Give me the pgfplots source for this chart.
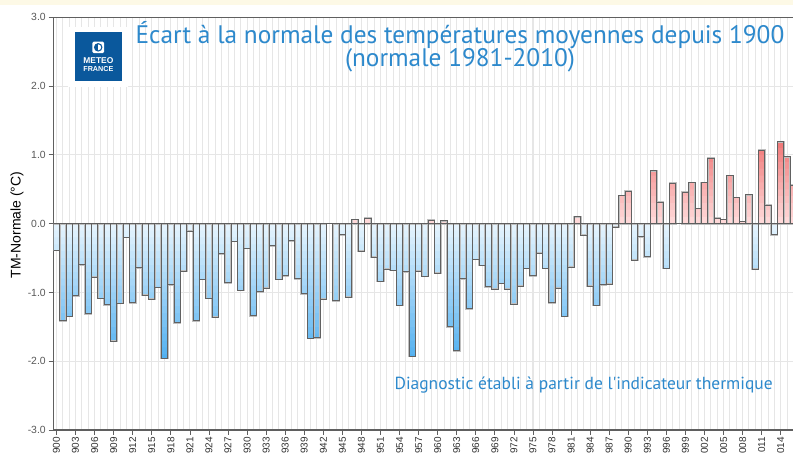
\documentclass[border=0pt]{standalone}
\usepackage{pgfplots}
\pgfplotsset{compat=1.18}
\usepackage{pgfplotstable}
\usepackage{graphicx}
\usepackage{fontspec}
\setmainfont{Liberation Sans}
\newfontfamily\titlefont{PT Sans}
\definecolor{titleblue}{RGB}{45,137,204}
\definecolor{logoblue}{RGB}{10,88,156}
\definecolor{bluedark}{RGB}{82,176,240}
\definecolor{bluelight}{RGB}{236,247,254}
\definecolor{reddark}{RGB}{240,118,118}
\definecolor{redlight}{RGB}{255,224,224}
\definecolor{gridgray}{RGB}{230,230,230}
\definecolor{axisgray}{RGB}{95,95,95}
\definecolor{cream}{RGB}{253,249,230}

\pgfplotstableread{
year v
1900 -0.39
1901 -1.41
1902 -1.35
1903 -1.05
1904 -0.60
1905 -1.31
1906 -0.78
1907 -1.09
1908 -1.18
1909 -1.71
1910 -1.16
1911 -0.20
1912 -1.15
1913 -0.64
1914 -1.04
1915 -1.10
1916 -0.93
1917 -1.96
1918 -0.89
1919 -1.44
1920 -0.69
1921 -0.11
1922 -1.41
1923 -0.81
1924 -1.09
1925 -1.36
1926 -0.44
1927 -0.86
1928 -0.26
1929 -0.97
1930 -0.36
1931 -1.34
1932 -0.99
1933 -0.94
1934 -0.32
1935 -0.81
1936 -0.76
1937 -0.25
1938 -0.80
1939 -1.02
1940 -1.67
1941 -1.66
1942 -1.10
1944 -1.12
1945 -0.16
1946 -1.07
1947 0.06
1948 -0.40
1949 0.08
1950 -0.49
1951 -0.84
1952 -0.66
1953 -0.68
1954 -1.19
1955 -0.70
1956 -1.93
1957 -0.69
1958 -0.77
1959 0.05
1960 -0.72
1961 0.04
1962 -1.50
1963 -1.85
1964 -0.80
1965 -1.24
1966 -0.52
1967 -0.61
1968 -0.92
1969 -0.95
1970 -0.87
1971 -0.95
1972 -1.17
1973 -0.91
1974 -0.65
1975 -0.76
1976 -0.43
1977 -0.65
1978 -1.15
1979 -0.94
1980 -1.35
1981 -0.63
1982 0.10
1983 -0.17
1984 -0.91
1985 -1.19
1986 -0.89
1987 -0.88
1988 -0.05
1989 0.41
1990 0.47
1991 -0.53
1992 -0.19
1993 -0.48
1994 0.77
1995 0.31
1996 -0.65
1997 0.59
1999 0.46
2000 0.60
2001 0.22
2002 0.60
2003 0.95
2004 0.08
2005 0.06
2006 0.70
2007 0.38
2008 0.03
2009 0.42
2010 -0.66
2011 1.07
2012 0.27
2013 -0.16
2014 1.19
2015 0.97
2016 0.56
}\anom

\begin{document}
\begin{tikzpicture}
\fill[white] (0,0) rectangle (594.75pt,339.75pt);
\fill[cream] (0,336pt) rectangle (594.75pt,339.75pt);
\begin{axis}[
  at={(39.98pt,17.25pt)}, anchor=south west,
  scale only axis, width=557.5pt, height=309.5pt,
  xmin=1899.5, xmax=2016.5, ymin=-3, ymax=3,
  axis line style={axisgray, line width=0.8pt},
  xtick={1900,1903,...,2014},
  minor xtick={1900,...,2016},
  ytick={-3,-2,...,3},
  xmajorgrids, xminorgrids, ymajorgrids,
  major grid style={gridgray, line width=0.7pt},
  minor grid style={gridgray, line width=0.7pt},
  tick align=outside, major tick length=3.5pt, minor tick length=0pt,
  xtick pos=bottom, ytick pos=left,
  tick style={axisgray, line width=0.6pt},
  /pgf/number format/assume math mode=true,
  xticklabel style={/pgf/number format/1000 sep={}, rotate=90, anchor=east,
    font=\fontsize{7.5}{8}\selectfont, text=black!80, inner sep=1.5pt},
  yticklabel style={/pgf/number format/.cd, fixed, fixed zerofill, precision=1,
    /tikz/.cd, font=\fontsize{7.8}{8}\selectfont, text=black!65, inner sep=2pt},
  mybar/.style={ybar, bar shift=0pt, bar width=1, draw=none},
  clip=true,
]
\pgfplotsinvokeforeach{100,95,...,5}{
  \addplot[mybar, fill=bluedark!#1!bluelight] table[x=year, y expr={max(min(\thisrow{v},0),-#1/50)}]{\anom};
}
\pgfplotsinvokeforeach{96,88,...,8}{
  \addplot[mybar, fill=reddark!#1!redlight] table[x=year, y expr={min(max(\thisrow{v},0),#1/80)}]{\anom};
}
\addplot[mybar, fill=none, draw=black!25, line width=1.3pt] table[x=year, y=v]{\anom};
\addplot[mybar, fill=none, draw=black!62, line width=0.7pt] table[x=year, y=v]{\anom};
\draw[axisgray, line width=0.9pt] (axis cs:1899.5,0) -- (axis cs:2016.5,0);
\end{axis}
% logo
\fill[white] (51pt,274.5pt) rectangle (96pt,319.5pt);
\fill[logoblue] (56.25pt,279pt) rectangle (91.5pt,315.75pt);
\fill[white, rounded corners=1pt] (69.3pt,299.9pt) rectangle (78pt,308.6pt);
\fill[logoblue] (73.65pt,304.25pt) circle (3.2pt);
\fill[white] (73.65pt,304.25pt) ++(90:2.2pt) arc (90:-90:2.2pt) -- cycle;
\node[text=white, inner sep=0pt] at (73.8pt,294.3pt) {\resizebox{22.5pt}{!}{\bfseries METEO}};
\node[text=white, inner sep=0pt] at (73.8pt,287.8pt) {\resizebox{22.5pt}{!}{\bfseries FRANCE}};
% titles
\node[anchor=base, text=titleblue, inner sep=0pt, font=\titlefont\fontsize{19}{22}\selectfont] at (345pt,307.3pt) {Écart à la normale des températures moyennes depuis 1900};
\node[anchor=base, text=titleblue, inner sep=0pt, font=\titlefont\fontsize{19}{22}\selectfont] at (345pt,289.7pt) {(normale 1981-2010)};
\node[anchor=base east, text=titleblue, inner sep=0pt, font=\titlefont\fontsize{13.1}{15}\selectfont] at (579.75pt,47.25pt) {Diagnostic établi à partir de l'indicateur thermique};
\node[rotate=90, inner sep=0pt, font=\fontsize{10.5}{12}\selectfont, text=black] at (12.75pt,171pt) {TM-Normale (°C)};
\pgfresetboundingbox
\useasboundingbox (0,0) rectangle (594.75pt,339.75pt);
\end{tikzpicture}
\end{document}
